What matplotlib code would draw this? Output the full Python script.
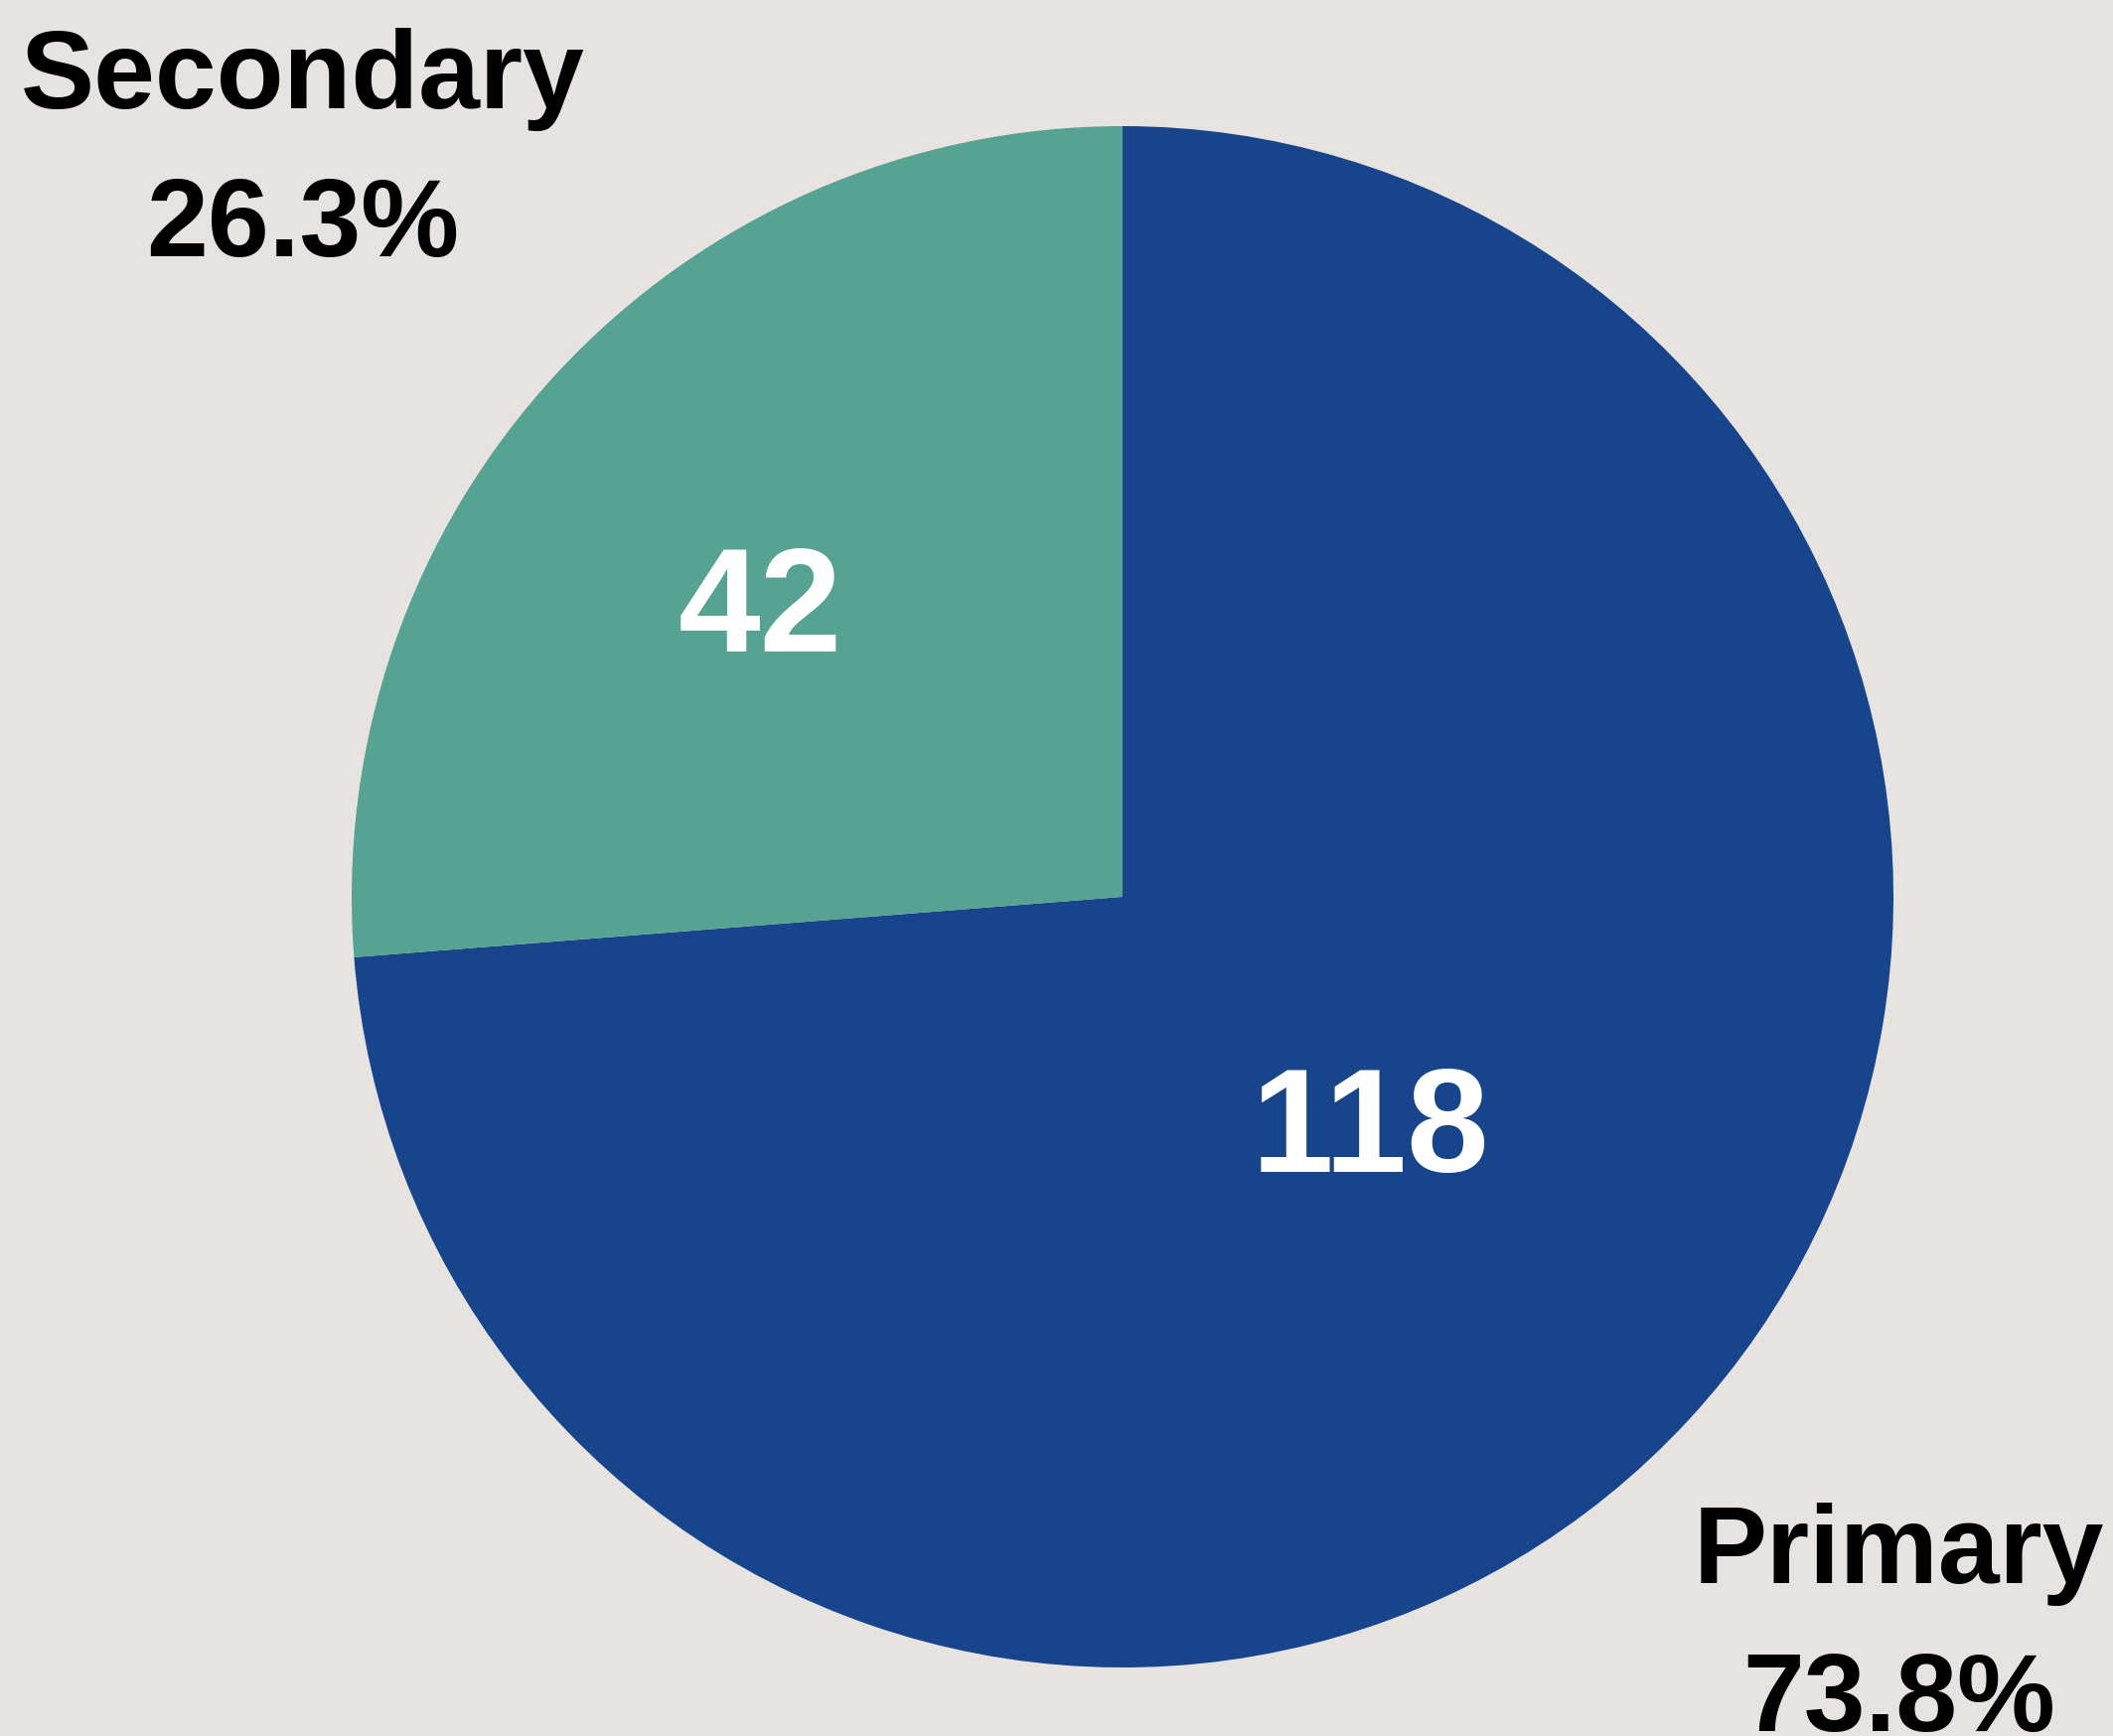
import math
import matplotlib
matplotlib.use("Agg")
import matplotlib.pyplot as plt

categories = ["Primary", "Secondary"]
values = [118, 42]
colors = ["#17448B", "#57A393"]

BG = "#E7E3E0"
plt.rcParams['font.family'] = ['Liberation Sans', 'DejaVu Sans']

W, H, DPI = 2127, 1748, 100
fig = plt.figure(figsize=(W / DPI, H / DPI), dpi=DPI, facecolor=BG)
ax = fig.add_axes([0, 0, 1, 1])
ax.set_facecolor(BG)

total = sum(values)
pcts = [math.floor(v / total * 1000 + 0.5) / 10 for v in values]
labels = [f"{c}\n{p:.1f}%" for c, p in zip(categories, pcts)]

wedges, texts = ax.pie(values, colors=colors, startangle=90, counterclock=False,
                       radius=1.0, labels=labels, labeldistance=1.4,
                       wedgeprops=dict(linewidth=0),
                       textprops=dict(fontsize=80, fontweight='bold', color='black',
                                      linespacing=1.56))

# outer label placement (distance, angular offset in degrees)
label_r = [1.384, 1.436]
label_shift = [-0.56, 0.57]
for w, t, r, s in zip(wedges, texts, label_r, label_shift):
    ang = math.radians((w.theta1 + w.theta2) / 2 + s)
    t.set_position((r * math.cos(ang), r * math.sin(ang)))
    t.set_ha('center')
    t.set_va('center')

# inner value labels
inner_r = [0.444, 0.597]
inner_shift = [-0.95, 4.7]
for w, v, r, s in zip(wedges, values, inner_r, inner_shift):
    ang = math.radians((w.theta1 + w.theta2) / 2 + s)
    ax.text(r * math.cos(ang), r * math.sin(ang), str(v), ha='center', va='center',
            fontsize=107, fontweight='bold', color='white')

R = 776.0
cx, cy = 1130.0, 903.0
ax.set_xlim(-cx / R, (W - cx) / R)
ax.set_ylim(-(H - cy) / R, cy / R)
ax.set_aspect('auto')
ax.axis('off')

fig.savefig("out.png", dpi=DPI, facecolor=BG)
